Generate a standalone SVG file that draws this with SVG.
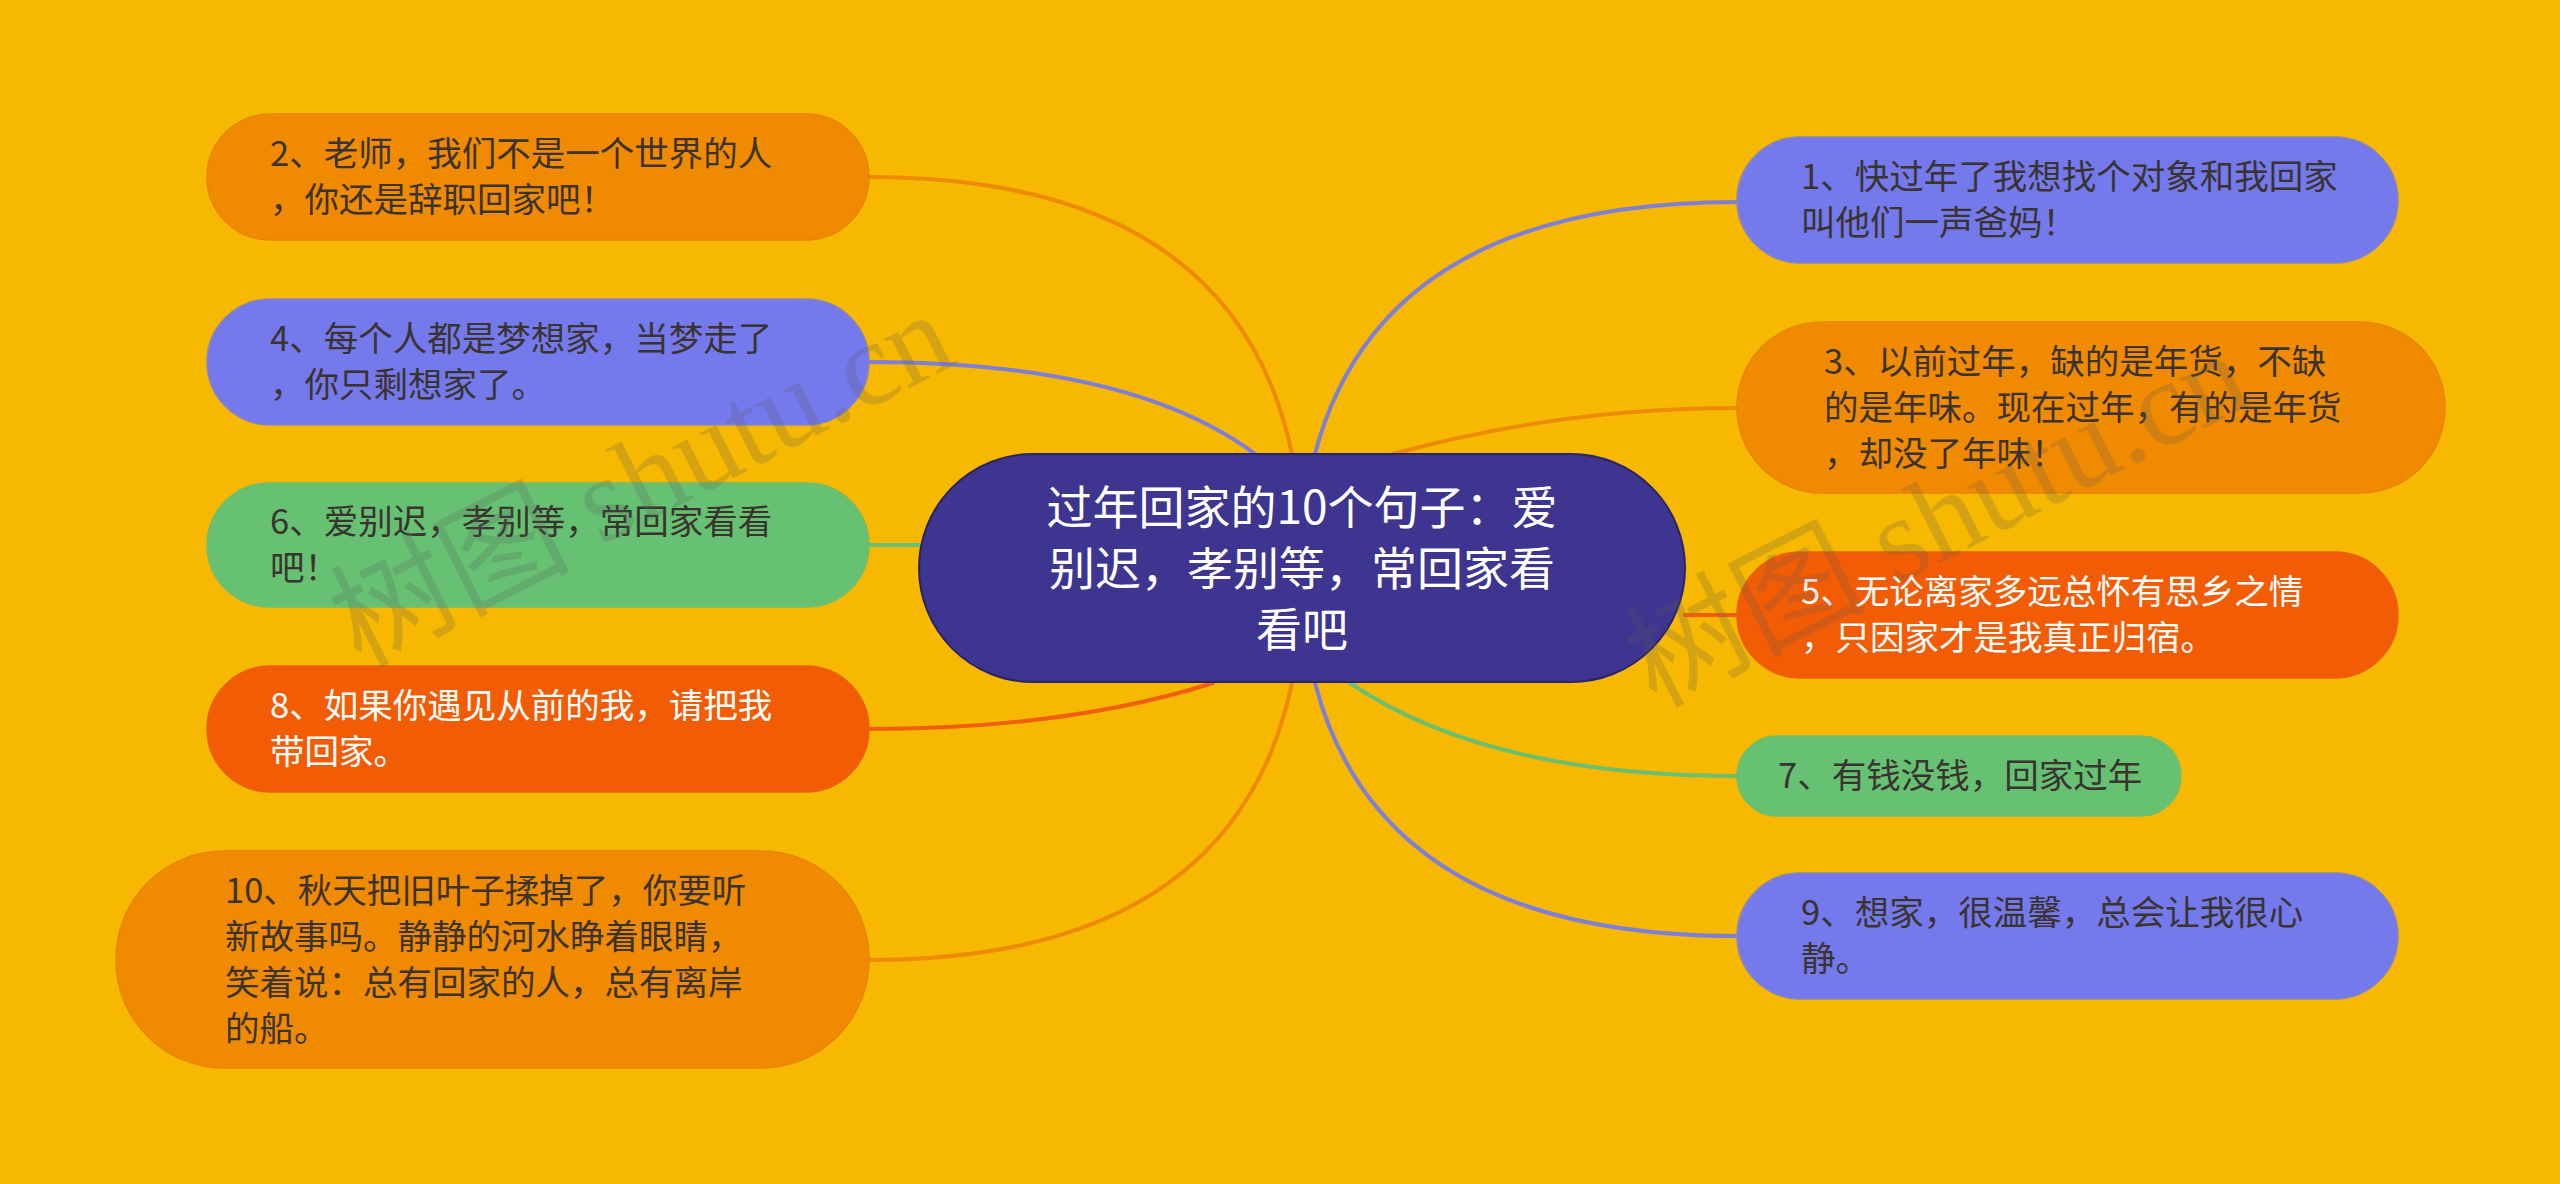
<svg xmlns="http://www.w3.org/2000/svg" width="2560" height="1184" viewBox="0 0 2560 1184">
<style>
.t{font-family:"Noto Sans CJK SC","Noto Sans",sans-serif;font-size:34.5px;fill:#3a3330}
.w{fill:#ffffff}
.ct{font-family:"Noto Sans CJK SC","Noto Sans",sans-serif;font-size:46px;fill:#ffffff;text-anchor:middle}
.or{fill:#f08a00;stroke:#e88400;stroke-width:1.5}
.bl{fill:#7479ec;stroke:#8a86b8;stroke-width:1.5}
.gr{fill:#66c172;stroke:#72bd6c;stroke-width:1.5}
.rd{fill:#f25c05;stroke:#e8620e;stroke-width:1.5}
.c{fill:none;stroke-width:4;stroke-linecap:round}
.wm{font-family:"Liberation Serif","Noto Sans CJK SC",serif;font-size:120px;fill:#5a5a5a;fill-opacity:0.22}
</style>
<rect width="2560" height="1184" fill="#f6b800"/>
<g id="connectors">
<path class="c" stroke="#ee8a06" d="M869,177 Q1234,177 1292,454"/>
<path class="c" stroke="#7e7fd8" d="M869,362 Q1132,362 1255,454"/>
<path class="c" stroke="#6cbf6e" d="M869,545 L919,545"/>
<path class="c" stroke="#f0600c" d="M869,729 Q1067,729 1213,683"/>
<path class="c" stroke="#ee8a06" d="M869,960 Q1234,960 1292,683"/>
<path class="c" stroke="#7e7fd8" d="M1737,202 Q1381,202 1315,454"/>
<path class="c" stroke="#ee8a06" d="M1737,408 Q1560,408 1393,454"/>
<path class="c" stroke="#f0600c" d="M1685,615 L1737,615"/>
<path class="c" stroke="#6cbf6e" d="M1737,776 Q1487,776 1350,683"/>
<path class="c" stroke="#7e7fd8" d="M1737,936 Q1381,936 1315,683"/>
</g>
<g id="center">
<rect x="919" y="454" width="766" height="228" rx="114" ry="114" fill="#3d3590" stroke="#2b2466" stroke-width="2"/>
<text class="ct" x="1302" y="524">过年回家的10个句子：爱</text>
<text class="ct" x="1302" y="585">别迟，孝别等，常回家看</text>
<text class="ct" x="1302" y="646">看吧</text>
</g>
<g id="n2">
<rect class="or" x="207" y="114" width="662" height="126" rx="63"/>
<text class="t" x="270" y="166">2、老师，我们不是一个世界的人</text>
<text class="t" x="270" y="212">，你还是辞职回家吧！</text>
</g>
<g id="n4">
<rect class="bl" x="207" y="299" width="662" height="126" rx="63"/>
<text class="t" x="270" y="351">4、每个人都是梦想家，当梦走了</text>
<text class="t" x="270" y="397">，你只剩想家了。</text>
</g>
<g id="n6">
<rect class="gr" x="207" y="483" width="662" height="124" rx="62"/>
<text class="t" x="270" y="534">6、爱别迟，孝别等，常回家看看</text>
<text class="t" x="270" y="580">吧！</text>
</g>
<g id="n8">
<rect class="rd" x="207" y="666" width="662" height="126" rx="63"/>
<text class="t w" x="270" y="718">8、如果你遇见从前的我，请把我</text>
<text class="t w" x="270" y="764">带回家。</text>
</g>
<g id="n10">
<rect class="or" x="116" y="851" width="753" height="217" rx="108"/>
<text class="t" x="225" y="903">10、秋天把旧叶子揉掉了，你要听</text>
<text class="t" x="225" y="949">新故事吗。静静的河水睁着眼睛，</text>
<text class="t" x="225" y="995">笑着说：总有回家的人，总有离岸</text>
<text class="t" x="225" y="1041">的船。</text>
</g>
<g id="n1">
<rect class="bl" x="1737" y="137" width="661" height="126" rx="63"/>
<text class="t" x="1801" y="189">1、快过年了我想找个对象和我回家</text>
<text class="t" x="1801" y="235">叫他们一声爸妈！</text>
</g>
<g id="n3">
<rect class="or" x="1737" y="322" width="708" height="171" rx="85"/>
<text class="t" x="1824" y="374">3、以前过年，缺的是年货，不缺</text>
<text class="t" x="1824" y="420">的是年味。现在过年，有的是年货</text>
<text class="t" x="1824" y="466">，却没了年味！</text>
</g>
<g id="n5">
<rect class="rd" x="1737" y="552" width="661" height="126" rx="63"/>
<text class="t w" x="1801" y="604">5、无论离家多远总怀有思乡之情</text>
<text class="t w" x="1801" y="650">，只因家才是我真正归宿。</text>
</g>
<g id="n7">
<rect class="gr" x="1737" y="736" width="444" height="80" rx="40"/>
<text class="t" x="1778" y="788">7、有钱没钱，回家过年</text>
</g>
<g id="n9">
<rect class="bl" x="1737" y="873" width="661" height="126" rx="63"/>
<text class="t" x="1801" y="925">9、想家，很温馨，总会让我很心</text>
<text class="t" x="1801" y="971">静。</text>
</g>
<g id="watermarks">
<text class="wm" x="360" y="668" transform="rotate(-27 360 668)">树图 shutu.cn</text>
<text class="wm" x="1655" y="708" transform="rotate(-27 1655 708)">树图 shutu.cn</text>
</g>
</svg>
